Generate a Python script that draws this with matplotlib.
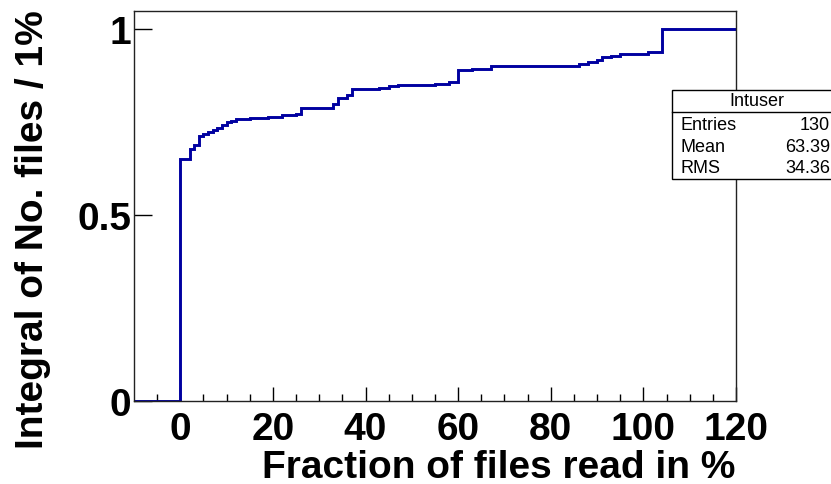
import matplotlib
matplotlib.use("Agg")
import matplotlib.pyplot as plt
from matplotlib.patches import Rectangle
from matplotlib.lines import Line2D

# ---- data ----
bin_edges = [-10, 0, 2, 3, 4, 5, 6, 7, 8, 9, 10, 11, 12, 15, 19, 22, 25, 26, 33, 34,
             36, 37, 43, 45, 47, 55, 58, 60, 63, 67, 79, 86, 88, 90, 91, 93, 95, 101, 104]
cum_values = [0.0, 0.649, 0.676, 0.688, 0.711, 0.717, 0.722, 0.727, 0.734, 0.742, 0.749,
              0.753, 0.758, 0.761, 0.764, 0.769, 0.771, 0.788, 0.798, 0.813, 0.822, 0.838,
              0.841, 0.846, 0.850, 0.853, 0.858, 0.889, 0.893, 0.899, 0.901, 0.906, 0.910,
              0.917, 0.924, 0.928, 0.933, 0.937, 1.0]
x_end = 120
x_ticks = [0, 20, 40, 60, 80, 100, 120]
y_ticks = [0, 0.5, 1]
y_tick_labels = ["0", "0.5", "1"]
stats_title = "Intuser"
stats_names = ["Entries", "Mean", "RMS"]
stats_values = ["130", "63.39", "34.36"]

FONT = "Liberation Sans"
W, H = 831, 485

fig = plt.figure(figsize=(W / 100, H / 100), dpi=100)
ax = fig.add_axes([134 / W, 1 - 402 / H, (736 - 134) / W, (402 - 12) / H])

xs = bin_edges + [x_end]
ys = cum_values + [cum_values[-1]]
ax.step(xs, ys, where="post", color="#0000a0", lw=2.1, solid_joinstyle="miter")

ax.set_xlim(-10, 120)
ax.set_ylim(0, 1.048)
ax.set_xticks(x_ticks)
ax.set_xticks(list(range(-5, 120, 5)), minor=True)
ax.set_yticks(y_ticks)
ax.set_yticklabels(y_tick_labels)
ax.tick_params(axis="x", which="major", direction="in", length=10, width=1, pad=7)
ax.tick_params(axis="x", which="minor", direction="in", length=5, width=1)
ax.tick_params(axis="y", which="major", direction="in", length=13, width=1, pad=2)
ax.tick_params(top=False, right=False)
for lab in ax.get_xticklabels() + ax.get_yticklabels():
    lab.set_fontfamily(FONT)
    lab.set_fontweight("bold")
    lab.set_fontsize(28)
for s in ax.spines.values():
    s.set_linewidth(1.0)
    s.set_color("#222222")

fig.text(735 / W, 1 - 478 / H, "Fraction of files read in %", ha="right", va="baseline",
         fontsize=28, fontweight="bold", family=FONT)
fig.text(33 / W, 1 - 10 / H, "Integral of No. files / 1%", ha="center", va="top",
         rotation=90, fontsize=28, fontweight="bold", family=FONT)

# stats box
bx0, by_top, by_sep, by_bot = 672, 91, 113, 180
fig.patches.append(Rectangle((bx0 / W, 1 - by_bot / H), (845 - bx0) / W, (by_bot - by_top) / H,
                             transform=fig.transFigure, facecolor="white", edgecolor="black",
                             lw=1.0, zorder=5))
fig.lines.append(Line2D([bx0 / W, 1.0], [1 - by_sep / H] * 2, transform=fig.transFigure,
                        color="black", lw=1.0, zorder=6))
fig.text(757 / W, 1 - 102 / H, stats_title, ha="center", va="center", fontsize=13,
         family=FONT, zorder=7)
for i, (n, v) in enumerate(zip(stats_names, stats_values)):
    yy = 1 - (125.5 + i * 21.5) / H
    fig.text(680 / W, yy, n, ha="left", va="center", fontsize=13, family=FONT, zorder=7)
    fig.text(830 / W, yy, v, ha="right", va="center", fontsize=13, family=FONT, zorder=7)

fig.savefig("out.png", dpi=100)
